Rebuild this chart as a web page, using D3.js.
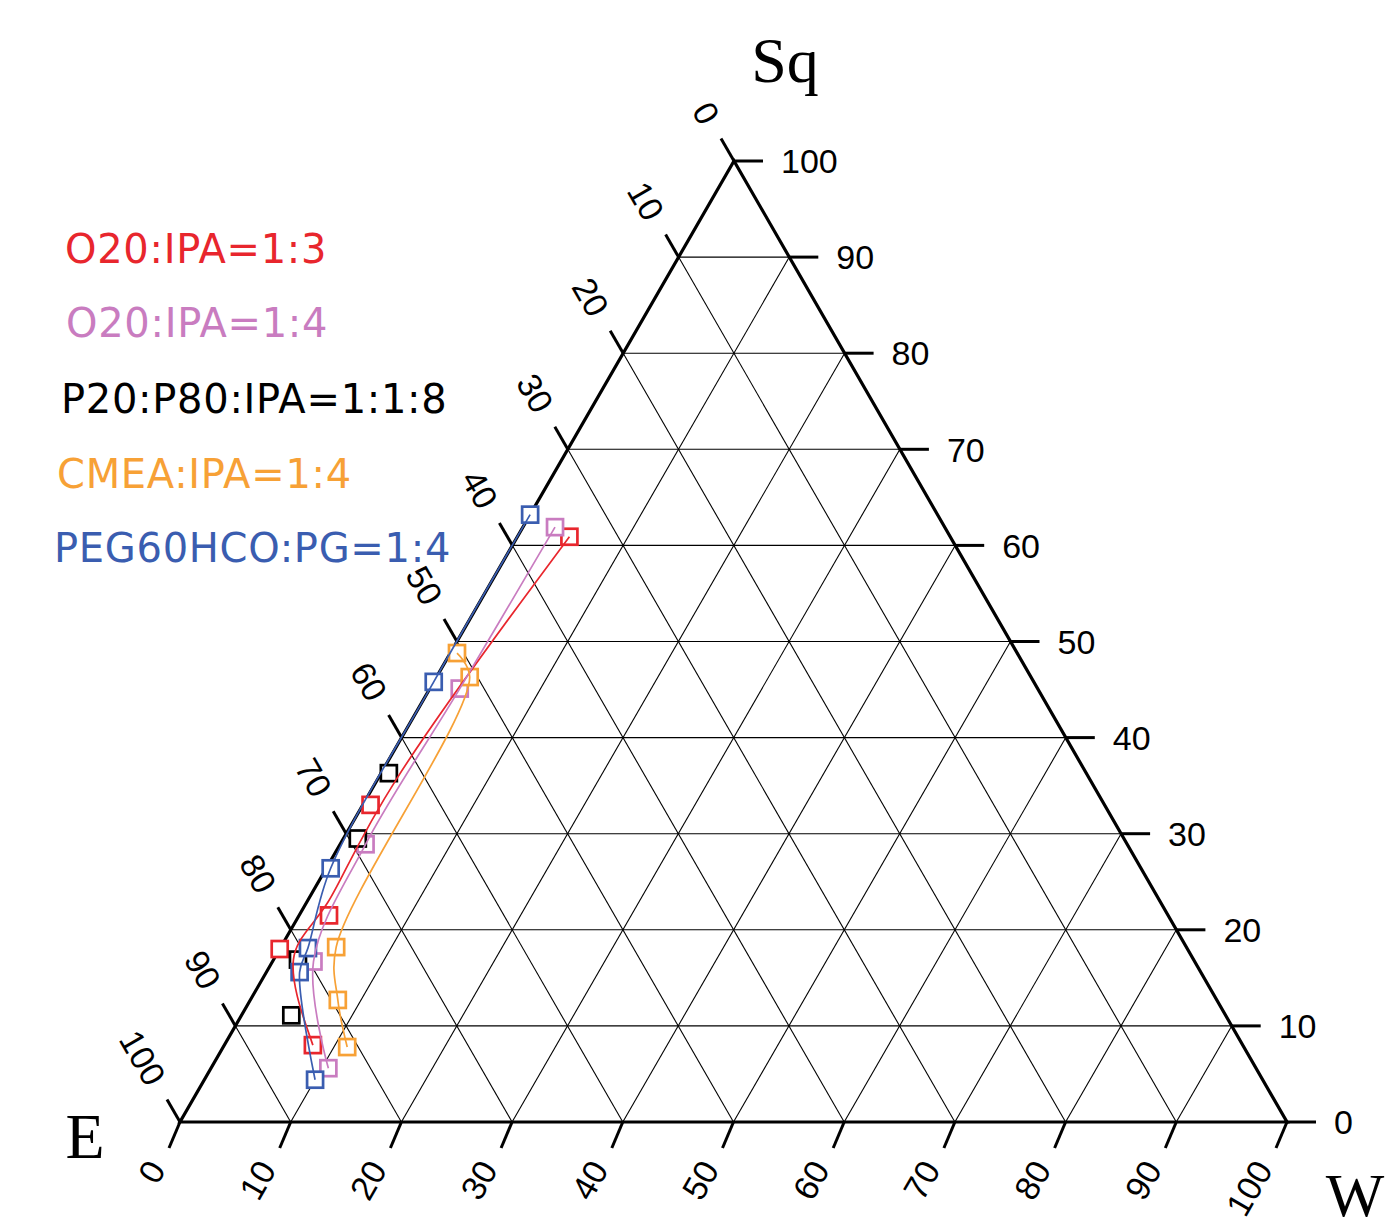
<!DOCTYPE html>
<html><head><meta charset="utf-8">
<script src="https://cdn.jsdelivr.net/npm/d3@7"></script>
<style>body{margin:0;background:#fff}svg{display:block}</style>
</head><body><svg id="c" width="1393" height="1231"></svg>
<script>
// ---- data (ternary compositions in %, E = 100 - Sq - W) ----
const seriesNames = ["O20:IPA=1:3", "O20:IPA=1:4", "P20:P80:IPA=1:1:8", "CMEA:IPA=1:4", "PEG60HCO:PG=1:4"];
const seriesColors = ["#e8262d", "#c97cc0", "#000000", "#f7a136", "#3a5db0"];
const redSq = [60.9, 33.0, 21.5, 18.0, 8.0];
const redW = [4.7, 0.7, 2.7, 0.0, 8.0];
const pinkSq = [61.9, 45.1, 28.9, 16.7, 5.6];
const pinkW = [2.9, 2.7, 2.3, 3.7, 10.6];
const blackSq = [36.3, 29.5, 16.9, 11.1];
const blackW = [0.7, 1.3, 2.2, 4.5];
const orangeSq = [48.8, 46.3, 18.2, 12.7, 7.8];
const orangeW = [0.6, 3.0, 5.0, 7.9, 11.2];
const blueSq = [63.2, 45.8, 26.4, 18.1, 15.6, 4.4];
const blueW = [0.0, 0.0, 0.4, 2.5, 3.0, 10.0];
const tickValues = [0, 10, 20, 30, 40, 50, 60, 70, 80, 90, 100];
const gridValues = [10, 20, 30, 40, 50, 60, 70, 80, 90];
const axisTitles = ["Sq", "E", "W"];

const seriesSq = [redSq, pinkSq, blackSq, orangeSq, blueSq];
const seriesW = [redW, pinkW, blackW, orangeW, blueW];
const seriesCurve = [d3.curveBasis, d3.curveCatmullRom.alpha(0.5), null, d3.curveCatmullRom.alpha(0.5), d3.curveCatmullRom.alpha(0.5)];

// ---- scales ----
const x0 = 180;
const sqY = d3.scaleLinear().domain([0, 100]).range([1122, 161]);
const sqX = d3.scaleLinear().domain([0, 100]).range([0, 554]);
const wX = d3.scaleLinear().domain([0, 100]).range([0, 1107]);
const pos = (sq, w) => [x0 + sqX(sq) + wX(w), sqY(sq)];

const svg = d3.select("#c");
svg.append("rect").attr("width", 1393).attr("height", 1231).attr("fill", "#fff");

// grid
const grid = svg.append("g").attr("stroke", "#000").attr("stroke-width", 1.1).attr("fill", "none");
const seg = (a, b) => grid.append("line").attr("x1", a[0]).attr("y1", a[1]).attr("x2", b[0]).attr("y2", b[1]);
gridValues.forEach(k => {
  seg(pos(k, 0), pos(k, 100 - k));          // constant Sq
  seg(pos(0, k), pos(100 - k, k));          // constant W
  seg(pos(0, 100 - k), pos(100 - k, 0));    // constant E
});

// ticks + labels
const ax = svg.append("g");
const tickFont = "'Liberation Sans', Arial, sans-serif";
const c60 = Math.cos(Math.PI / 3), s60 = Math.sin(Math.PI / 3);
tickValues.forEach(k => {
  // Sq axis (right side)
  let p = pos(k, 100 - k);
  ax.append("line").attr("x1", p[0]).attr("y1", p[1]).attr("x2", p[0] + 29).attr("y2", p[1])
    .attr("stroke", "#000").attr("stroke-width", 3);
  ax.append("text").attr("x", p[0] + 47).attr("y", p[1]).attr("dy", "0.36em")
    .attr("font-family", tickFont).attr("font-size", 34).attr("fill", "#000").text(k);
  // E axis (left side): E = k  -> Sq = 100-k, W = 0
  p = pos(100 - k, 0);
  ax.append("line").attr("x1", p[0]).attr("y1", p[1]).attr("x2", p[0] - 26 * c60).attr("y2", p[1] - 26 * s60)
    .attr("stroke", "#000").attr("stroke-width", 3);
  let lx = p[0] - 46 * c60, ly = p[1] - 46 * s60;
  ax.append("text").attr("transform", `translate(${lx},${ly}) rotate(60)`).attr("dy", "0.36em")
    .attr("text-anchor", "end").attr("font-family", tickFont).attr("font-size", 34).attr("fill", "#000").text(k);
  // W axis (bottom)
  p = pos(0, k);
  ax.append("line").attr("x1", p[0]).attr("y1", p[1]).attr("x2", p[0] - 11).attr("y2", p[1] + 26)
    .attr("stroke", "#000").attr("stroke-width", 3);
  lx = p[0] - 48 * c60; ly = p[1] + 48 * s60;
  ax.append("text").attr("transform", `translate(${lx},${ly}) rotate(-60)`).attr("dy", "0.36em")
    .attr("text-anchor", "end").attr("font-family", tickFont).attr("font-size", 34).attr("fill", "#000").text(k);
});

// triangle outline
const vE = pos(0, 0), vW = pos(0, 100), vS = pos(100, 0);
svg.append("path").attr("d", `M${vE}L${vW}L${vS}Z`).attr("fill", "none")
  .attr("stroke", "#000").attr("stroke-width", 3.2).attr("stroke-linejoin", "miter");

// axis titles
const titleFont = "'Liberation Serif', 'Times New Roman', serif";
svg.append("text").attr("x", 785).attr("y", 82).attr("text-anchor", "middle").attr("font-family", titleFont).attr("font-size", 64).text(axisTitles[0]);
svg.append("text").attr("x", 85).attr("y", 1158).attr("text-anchor", "middle").attr("font-family", titleFont).attr("font-size", 64).text(axisTitles[1]);
svg.append("text").attr("x", 1355).attr("y", 1216).attr("text-anchor", "middle").attr("font-family", titleFont).attr("font-size", 62).text(axisTitles[2]);

// series
const series = seriesNames.map((n, i) => ({
  name: n, color: seriesColors[i], curve: seriesCurve[i],
  pts: seriesSq[i].map((sq, j) => pos(sq, seriesW[i][j]))
}));
// markers (white-filled squares)
series.forEach(s => {
  svg.append("g").selectAll("rect").data(s.pts).join("rect")
    .attr("x", d => d[0] - 8).attr("y", d => d[1] - 8).attr("width", 16).attr("height", 16)
    .attr("fill", "#fff").attr("stroke", s.color).attr("stroke-width", 2.7);
});
// curves on top
const lg = svg.append("g").attr("fill", "none");
series.forEach(s => {
  if (!s.curve) return;
  lg.append("path").attr("d", d3.line().curve(s.curve)(s.pts))
    .attr("stroke", s.color).attr("stroke-width", 1.7);
});

// legend
const legX = [65, 66, 61, 57, 54];
const legY = [263, 337, 413, 488, 562];
series.forEach((s, i) => {
  svg.append("text").attr("x", legX[i]).attr("y", legY[i])
    .attr("font-family", "'DejaVu Sans', sans-serif").attr("font-size", 40)
    .attr("letter-spacing", 0.7)
    .attr("fill", s.color).text(s.name);
});
</script>
</body></html>
